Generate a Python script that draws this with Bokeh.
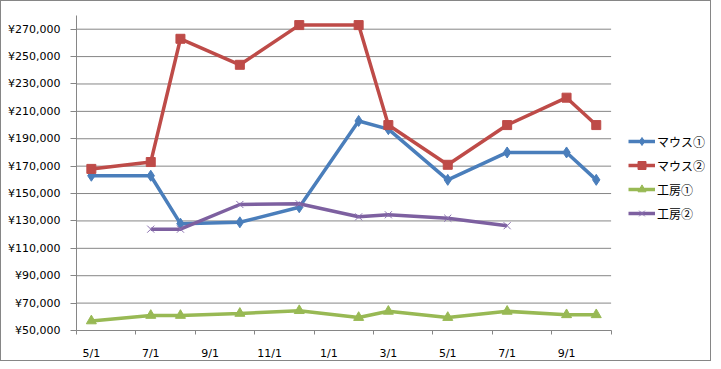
from bokeh.plotting import figure
from bokeh.models import Range1d, FixedTicker, Legend, LegendItem
from bokeh.embed import file_html
from bokeh.resources import INLINE
import datetime as dt

# ---- data ----
dates = ["2011-05-01", "2011-07-01", "2011-08-01", "2011-10-01", "2011-12-01",
         "2012-02-01", "2012-03-01", "2012-05-01", "2012-07-01", "2012-09-01",
         "2012-10-01"]
mouse1 = [163000, 163000, 128000, 129000, 140000, 203000, 197000, 160000, 180000, 180000, 160000]
mouse2 = [168000, 173000, 263000, 244000, 273000, 273000, 200000, 171000, 200000, 220000, 200000]
kobo1 = [57000, 61000, 61000, 62500, 64500, 59500, 64000, 59500, 64000, 61500, 61500]

kobo2_dates = ["2011-07-01", "2011-08-01", "2011-10-01", "2011-12-01",
               "2012-02-01", "2012-03-01", "2012-05-01", "2012-07-01"]
kobo2 = [124000, 124000, 142000, 142500, 133000, 134500, 132000, 126500]

series_names = ["マウス①", "マウス②", "工房①", "工房②"]
x_tick_labels = ["5/1", "7/1", "9/1", "11/1", "1/1", "3/1", "5/1", "7/1", "9/1"]
y_ticks = [50000, 70000, 90000, 110000, 130000, 150000, 170000, 190000,
           210000, 230000, 250000, 270000]
y_min, y_max = 50000, 280000

start = dt.date(2011, 5, 1)
n_months = 18


def month_index(s):
    d = dt.date.fromisoformat(s)
    return (d.year - start.year) * 12 + (d.month - start.month)


x_main = [month_index(s) for s in dates]
x_k2 = [month_index(s) for s in kobo2_dates]

GRID = "#868686"

# layout (pixels)
W, H = 711, 361
LEFT, RIGHT, TOP, BOTTOM = 75, 1, 14, 27
PLOT_PX = 534.6                      # width of the 18-month plot area
frame_w = W - LEFT - RIGHT
x_start = -0.5
x_end = x_start + n_months * frame_w / PLOT_PX   # frame extends right to hold the legend
axis_end = x_start + n_months

p = figure(width=W, height=H, output_backend="svg", toolbar_location=None,
           x_range=Range1d(x_start, x_end), y_range=Range1d(y_min, y_max),
           min_border_left=LEFT, min_border_right=RIGHT, min_border_top=TOP,
           min_border_bottom=BOTTOM)
p.outline_line_color = None
p.styles = {"border": "1px solid #868686"}
p.xgrid.visible = False
p.ygrid.visible = False

# horizontal gridlines limited to the plot area
p.segment(x0=[x_start] * len(y_ticks), x1=[axis_end] * len(y_ticks),
          y0=y_ticks, y1=y_ticks, line_color=GRID, line_width=1)

# x axis: labels at month centres, tick marks at slot boundaries (every 2 months)
major = [2 * i for i in range(len(x_tick_labels))]
minor = [m - 0.5 for m in range(0, n_months + 1, 2)]
p.xaxis.bounds = (x_start, axis_end)
p.xaxis.ticker = FixedTicker(ticks=major, minor_ticks=minor)
p.xaxis.major_label_overrides = {m: lab for m, lab in zip(major, x_tick_labels)}
p.xaxis.major_tick_line_color = None
p.xaxis.major_tick_out = 0
p.xaxis.major_tick_in = 0
p.xaxis.minor_tick_line_color = GRID
p.xaxis.minor_tick_out = 4
p.xaxis.minor_tick_in = 0
p.xaxis.axis_line_color = GRID
p.xaxis.major_label_standoff = 12

p.yaxis.ticker = FixedTicker(ticks=y_ticks, minor_ticks=[])
p.yaxis.major_label_overrides = {v: "¥{:,}".format(v) for v in y_ticks}
p.yaxis.major_tick_line_color = GRID
p.yaxis.major_tick_out = 6
p.yaxis.major_tick_in = 0
p.yaxis.minor_tick_line_color = None
p.yaxis.axis_line_color = GRID
p.yaxis.major_label_standoff = 10

for ax in (p.xaxis, p.yaxis):
    ax.major_label_text_font = "DejaVu Sans"
    ax.major_label_text_font_size = "11px"
    ax.major_label_text_color = "#000000"

LW = 3.5
items = []

c1 = "#4A7EBB"
l1 = p.line(x_main, mouse1, line_color=c1, line_width=LW)
s1 = p.scatter(x_main, mouse1, marker="diamond", size=11, fill_color=c1, line_color=c1)
items.append(LegendItem(label=series_names[0], renderers=[l1, s1]))

c2 = "#BE4B48"
l2 = p.line(x_main, mouse2, line_color=c2, line_width=LW)
s2 = p.scatter(x_main, mouse2, marker="square", size=9, fill_color=c2, line_color=c2)
items.append(LegendItem(label=series_names[1], renderers=[l2, s2]))

c3 = "#98B954"
l3 = p.line(x_main, kobo1, line_color=c3, line_width=LW)
s3 = p.scatter(x_main, kobo1, marker="triangle", size=10, fill_color=c3, line_color=c3)
items.append(LegendItem(label=series_names[2], renderers=[l3, s3]))

c4 = "#7D60A0"
l4 = p.line(x_k2, kobo2, line_color=c4, line_width=LW)
s4 = p.scatter(x_k2, kobo2, marker="x", size=10, line_color="#8A70B0", line_width=1)
items.append(LegendItem(label=series_names[3], renderers=[l4, s4]))

legend = Legend(items=items, location=(552, 107))
legend.padding = 0
legend.margin = 0
legend.spacing = 4
legend.glyph_width = 27
legend.glyph_height = 20
legend.label_height = 20
legend.label_standoff = 2
legend.border_line_color = None
legend.background_fill_alpha = 0
legend.label_text_font = "Noto Sans CJK JP"
legend.label_text_font_size = "12px"
legend.label_text_color = "#000000"
p.add_layout(legend, "center")

open("out.html", "w").write(file_html(p, INLINE))
